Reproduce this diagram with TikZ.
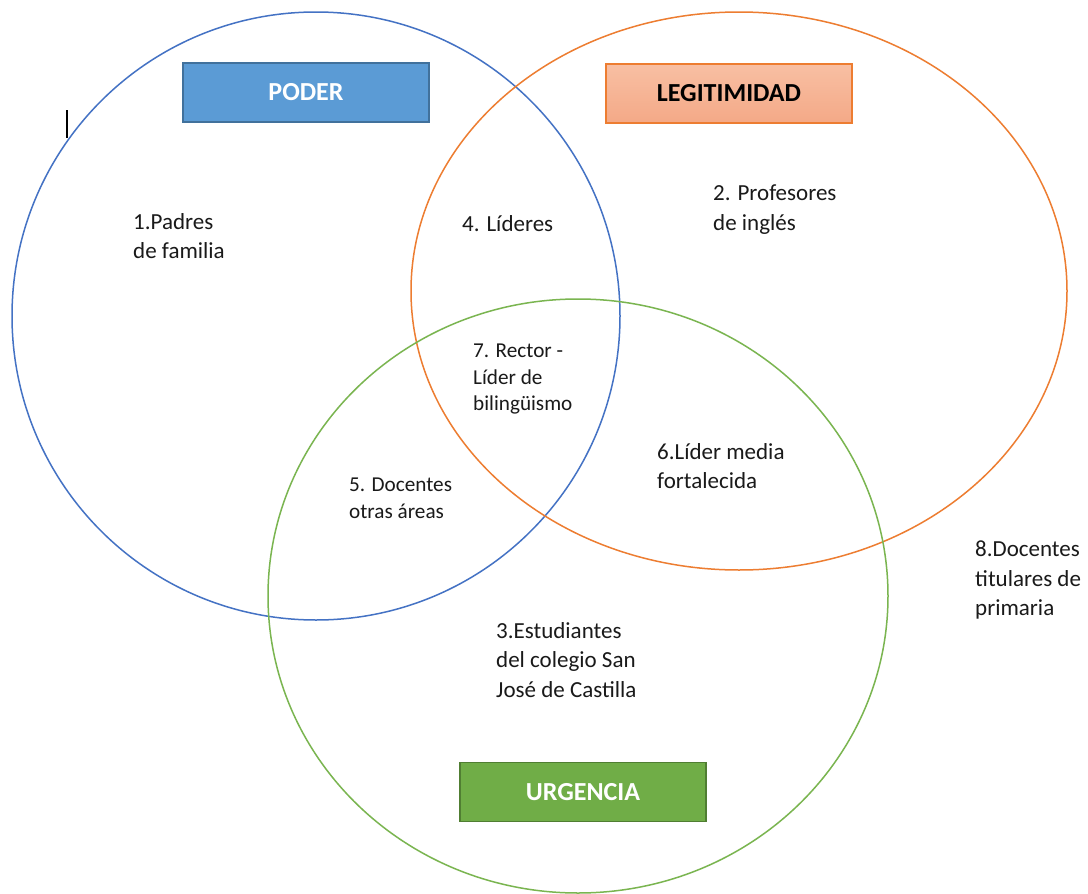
\documentclass[tikz,border=0pt]{standalone}
\usepackage{fontspec}
\setmainfont{Carlito}
\usetikzlibrary{shadings}
\definecolor{cblue}{HTML}{4472C4}
\definecolor{corange}{HTML}{ED7D31}
\definecolor{cgreen}{HTML}{7AB550}
\definecolor{poderfill}{HTML}{5B9BD5}
\definecolor{poderdraw}{HTML}{41719C}
\definecolor{legtop}{HTML}{F8BFA3}
\definecolor{legbot}{HTML}{F4A987}
\definecolor{urgfill}{HTML}{70AD47}
\definecolor{urgdraw}{HTML}{507E32}
\definecolor{txt}{HTML}{1A1A1A}
\tikzset{
  ring/.style={line width=1.5pt},
  lbl/.style={anchor=north west, inner sep=0pt, align=left, text=txt,
    font=\fontsize{23}{29.5}\selectfont},
  lblsmall/.style={lbl, font=\fontsize{21.2}{26.5}\selectfont},
  tag/.style={minimum width=246pt, minimum height=59pt, inner sep=0pt,
    line width=1.5pt, font=\fontsize{26}{30}\selectfont\bfseries}
}
\begin{document}
\begin{tikzpicture}[x=1pt,y=-1pt]
\fill[white] (0,0) rectangle (1088,894);
\useasboundingbox (0,0) rectangle (1088,894);
% circles
\draw[ring, cblue] (316,316) ellipse [x radius=304, y radius=304];
\draw[ring, corange] (739,291) ellipse [x radius=328, y radius=279];
\draw[ring, cgreen] (578,596) ellipse [x radius=310, y radius=297];
% title boxes
\node[tag, draw=poderdraw, fill=poderfill, text=white] (poder) at (306,92.5) {PODER};
\node[tag, draw=corange, top color=legtop, bottom color=legbot, text=black] (legit) at (729,93.5) {LEGITIMIDAD};
\node[tag, draw=urgdraw, fill=urgfill, text=white] (urg) at (583,792) {URGENCIA};
% cursor mark
\coordinate (curA) at (67,110);
\coordinate (curB) at (67,138);
\draw[line width=1.2pt, black] (curA) -- (curB);
% labels
\node[lbl] (t1) at (133,213) {1.Padres\\de familia};
\node[lbl] (t2) at (713,185) {2. Profesores\\de inglés};
\node[lbl] (t4) at (462,215) {4. Líderes};
\node[lblsmall] (t7) at (473,344) {7. Rector -\\Líder de\\bilingüismo};
\node[lbl] (t6) at (657,443) {6.Líder media\\fortalecida};
\node[lblsmall] (t5) at (349,478) {5. Docentes\\otras áreas};
\node[lbl] (t3) at (496,622) {3.Estudiantes\\del colegio San\\José de Castilla};
\node[lbl] (t8) at (975,541) {8.Docentes\\titulares de\\primaria};
\end{tikzpicture}
\end{document}
